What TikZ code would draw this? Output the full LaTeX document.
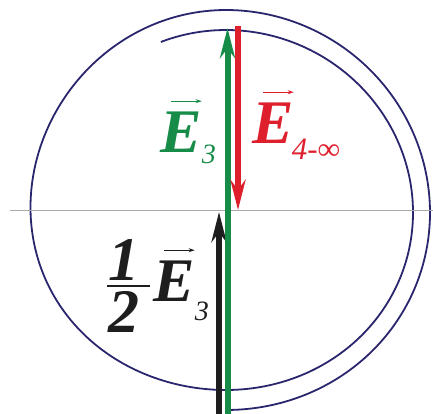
\documentclass[tikz,border=0pt]{standalone}
\usepackage{fontspec}
\setmainfont{Liberation Serif}
\usetikzlibrary{arrows.meta}
\definecolor{fieldgreen}{RGB}{22,140,72}
\definecolor{fieldred}{RGB}{222,32,45}
\definecolor{fieldblack}{RGB}{30,30,30}
\definecolor{loopblue}{RGB}{42,38,110}
\definecolor{axisgray}{RGB}{170,170,170}
\begin{document}
\begin{tikzpicture}[x=1pt, y=-1pt, >={Stealth[length=30pt, width=15pt]},
  every node/.style={inner sep=0pt, anchor=base west},
  vecname/.style={font=\fontsize{62}{62}\selectfont\bfseries\itshape},
  vecsub/.style={font=\fontsize{28}{28}\selectfont\itshape},
  field/.style={line width=6pt},
  accent/.style={line width=1.1pt, -{Stealth[length=6pt, width=4pt]}}]
\useasboundingbox (0,0) rectangle (433,413);

% loop and axis
\draw[loopblue, line width=1.8pt] plot[domain=111:-450, samples=220, smooth, variable=\t]
  ({226+(187-0.0472*\t)*cos(\t)}, {210-(190-10*cos(max(-270,min(-90,\t))+90))*sin(\t)});
\draw[axisgray, line width=0.9pt] (10,210) -- (433,210);

% field arrows
\coordinate (greenfoot) at (227.5,416);
\coordinate (greentip) at (227.5,28);
\coordinate (redfoot) at (238,26);
\coordinate (redtip) at (238,210);
\coordinate (blackfoot) at (219,416);
\coordinate (blacktip) at (219,212);
\draw[field, fieldblack, ->] (blackfoot) -- (blacktip);
\draw[field, fieldgreen, ->] (greenfoot) -- (greentip);
\draw[field, fieldred, ->] (redfoot) -- (redtip);

% labels
\node[vecname, fieldgreen] (e3) at (160,152) {E};
\node[vecsub, fieldgreen] (e3sub) at ([shift={(0,11)}]e3.base east) {3};
\draw[accent, fieldgreen] ([shift={(11,-10)}]e3.north west) -- ([shift={(0,-10)}]e3.north east);

\node[vecname, fieldred] (e4) at (252,143) {E};
\node[vecsub, fieldred, font=\fontsize{31}{31}\selectfont\itshape] (e4sub) at ([shift={(-2,16)}]e4.base east) {4-∞};
\draw[accent, fieldred] ([shift={(11,-10)}]e4.north west) -- ([shift={(0,-10)}]e4.north east);

\node[fieldblack, font=\fontsize{62}{52}\selectfont\bfseries\itshape, align=center, anchor=north] (half) at (124,239) {1\\2};
\draw[fieldblack, line width=2.5pt] (107,286) -- (150,286);
\node[vecname, fieldblack] (e3half) at (153,301) {E};
\node[vecsub, fieldblack] (e3halfsub) at ([shift={(0,19)}]e3half.base east) {3};
\draw[accent, fieldblack] ([shift={(11,-10)}]e3half.north west) -- ([shift={(0,-10)}]e3half.north east);
\end{tikzpicture}
\end{document}
